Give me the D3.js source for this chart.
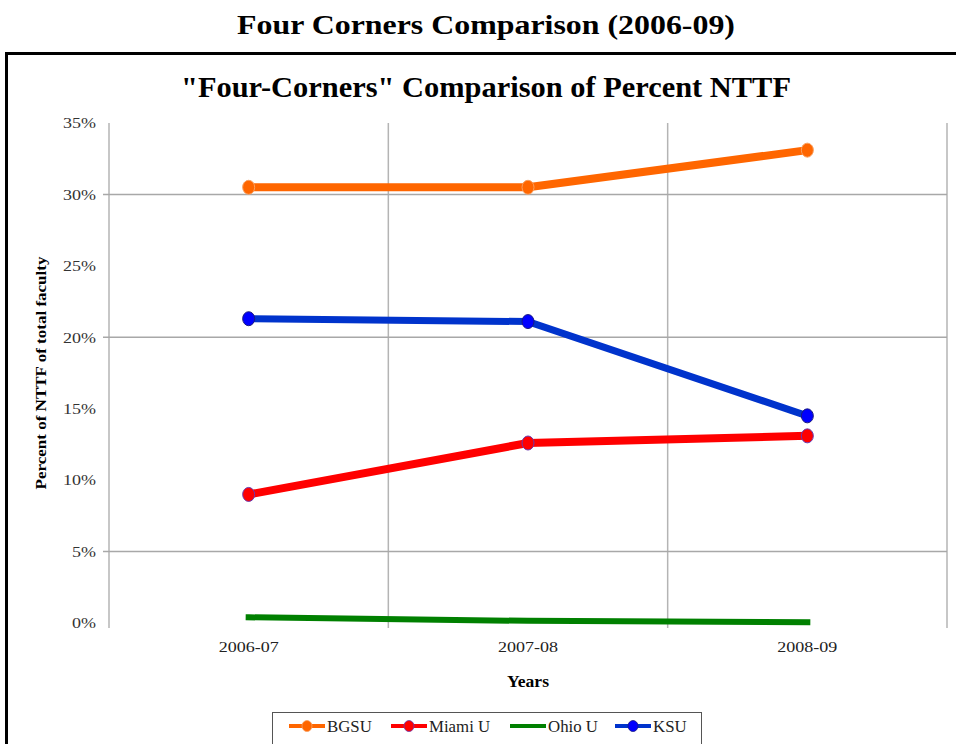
<!DOCTYPE html>
<html>
<head>
<meta charset="utf-8">
<script src="https://cdn.jsdelivr.net/npm/d3@7"></script>
<style>
  html, body { margin: 0; padding: 0; background: #fff; }
  svg { display: block; }
  text { font-family: "Liberation Serif", "Times New Roman", serif; }
</style>
</head>
<body>
<svg id="chart" width="956" height="744"></svg>
<script>
// ---- data ----
const categories = ["2006-07", "2007-08", "2008-09"];
const seriesNames = ["BGSU", "Miami U", "Ohio U", "KSU"];
const bgsuValues = [30.5, 30.5, 33.1];
const miamiValues = [9.0, 12.6, 13.1];
const ohioValues = [0.4, 0.15, 0.05];
const ksuValues = [21.3, 21.1, 14.5];
const yTickValues = [0, 5, 10, 15, 20, 25, 30, 35];
const yGridValues = [5, 20, 30];
const pageTitle = "Four Corners Comparison (2006-09)";
const chartTitle = "\"Four-Corners\" Comparison of Percent NTTF";
const yAxisTitle = "Percent of NTTF of total faculty";
const xAxisTitle = "Years";

const series = [
  { name: seriesNames[0], values: bgsuValues, line: "#FF6600", fill: "#FF6600", stroke: "#F9A060", marker: true, width: 8 },
  { name: seriesNames[1], values: miamiValues, line: "#FF0000", fill: "#FF0000", stroke: "#6A3AB0", marker: true, width: 8 },
  { name: seriesNames[2], values: ohioValues, line: "#008000", fill: "#008000", stroke: "#008000", marker: false, width: 6 },
  { name: seriesNames[3], values: ksuValues, line: "#0033CC", fill: "#0000FF", stroke: "#1A1A80", marker: true, width: 7 }
];

// horizontally stretch text (reference is slightly widened)
function stretch(sel, factor) {
  sel.each(function () {
    const w = this.getComputedTextLength();
    d3.select(this).attr("textLength", w * factor).attr("lengthAdjust", "spacingAndGlyphs");
  });
}

const svg = d3.select("#chart");

// page title
svg.append("text")
  .attr("x", 486).attr("y", 34)
  .attr("text-anchor", "middle")
  .attr("font-size", 28).attr("font-weight", "bold")
  .attr("textLength", 498).attr("lengthAdjust", "spacingAndGlyphs")
  .text(pageTitle);

// outer chart frame
svg.append("rect")
  .attr("x", 6.5).attr("y", 53.5)
  .attr("width", 960).attr("height", 720)
  .attr("fill", "none").attr("stroke", "#000").attr("stroke-width", 3);

// chart title
svg.append("text")
  .attr("x", 486).attr("y", 97)
  .attr("text-anchor", "middle")
  .attr("font-size", 30).attr("font-weight", "bold")
  .attr("textLength", 610).attr("lengthAdjust", "spacingAndGlyphs")
  .text(chartTitle);

// scales
const plot = { left: 109, right: 947, top: 123, bottom: 623 };
const x = d3.scaleBand().domain(categories).range([plot.left, plot.right]);
const y = d3.scaleLinear().domain([0, 35]).range([plot.bottom, plot.top]);
const cx = c => x(c) + x.bandwidth() / 2;

// vertical grid lines (band boundaries)
const vEdges = categories.map(c => x(c)).concat([plot.right]);
svg.append("g").selectAll("line").data(vEdges).join("line")
  .attr("x1", d => d).attr("x2", d => d)
  .attr("y1", plot.top).attr("y2", plot.bottom + 5)
  .attr("stroke", "#b4b4b4").attr("stroke-width", 1.5);

// horizontal grid lines
svg.append("g").selectAll("line").data(yGridValues).join("line")
  .attr("x1", plot.left - 6).attr("x2", plot.right)
  .attr("y1", d => y(d)).attr("y2", d => y(d))
  .attr("stroke", "#a8a8a8").attr("stroke-width", 1.5);

// y axis labels
const yAxis = svg.append("g")
  .attr("transform", `translate(${plot.left},0)`)
  .call(d3.axisLeft(y).tickValues(yTickValues).tickFormat(d => d + "%").tickSize(0).tickPadding(13));
yAxis.select(".domain").remove();
yAxis.selectAll("text")
  .attr("font-family", "Liberation Serif, serif")
  .attr("font-size", 15).attr("fill", "#333");
stretch(yAxis.selectAll("text"), 1.2);

// x axis labels
const xAxis = svg.append("g")
  .attr("transform", `translate(0,${plot.bottom})`)
  .call(d3.axisBottom(x).tickSize(0).tickPadding(18));
xAxis.select(".domain").remove();
xAxis.selectAll("text")
  .attr("font-family", "Liberation Serif, serif")
  .attr("font-size", 15).attr("fill", "#222");
stretch(xAxis.selectAll("text"), 1.2);

// axis titles
const yt = svg.append("text")
  .attr("transform", "translate(46,373) rotate(-90)")
  .attr("text-anchor", "middle")
  .attr("font-size", 15).attr("font-weight", "bold")
  .attr("textLength", 233).attr("lengthAdjust", "spacingAndGlyphs")
  .text(yAxisTitle);
svg.append("text")
  .attr("x", 528).attr("y", 687)
  .attr("text-anchor", "middle")
  .attr("font-size", 16).attr("font-weight", "bold")
  .attr("textLength", 42).attr("lengthAdjust", "spacingAndGlyphs")
  .text(xAxisTitle);

// lines
const lineGen = d3.line().x((d, i) => cx(categories[i])).y(d => y(d));
const order = [2, 0, 3, 1];
order.forEach(k => {
  const s = series[k];
  svg.append("path")
    .datum(s.values)
    .attr("d", lineGen)
    .attr("fill", "none")
    .attr("stroke", s.line)
    .attr("stroke-width", s.width)
    .attr("stroke-linejoin", "round")
    .attr("stroke-linecap", s.marker ? "round" : "square");
  if (s.marker) {
    svg.append("g").selectAll("ellipse").data(s.values).join("ellipse")
      .attr("cx", (d, i) => cx(categories[i]))
      .attr("cy", d => y(d))
      .attr("rx", 6).attr("ry", 7)
      .attr("fill", s.fill)
      .attr("stroke", s.stroke).attr("stroke-width", 1);
  }
});

// legend
const legend = svg.append("g");
legend.append("rect")
  .attr("x", 272.5).attr("y", 712.5)
  .attr("width", 429).attr("height", 60)
  .attr("fill", "#fff").attr("stroke", "#555").attr("stroke-width", 1);
const legendX = [289, 391, 510, 615];
series.forEach((s, i) => {
  const g = legend.append("g").attr("transform", `translate(${legendX[i]},726)`);
  g.append("line").attr("x1", 0).attr("x2", 36).attr("y1", 0).attr("y2", 0)
    .attr("stroke", s.line).attr("stroke-width", 4);
  if (s.marker) {
    g.append("ellipse").attr("cx", 18).attr("cy", 0).attr("rx", 5).attr("ry", 5.5)
      .attr("fill", s.fill).attr("stroke", s.stroke).attr("stroke-width", 0.8);
  }
  const t = g.append("text").attr("x", 38).attr("y", 5.5)
    .attr("font-size", 16).attr("fill", "#222")
    .text(s.name);
  stretch(t, 1.05);
});
</script>
</body>
</html>
